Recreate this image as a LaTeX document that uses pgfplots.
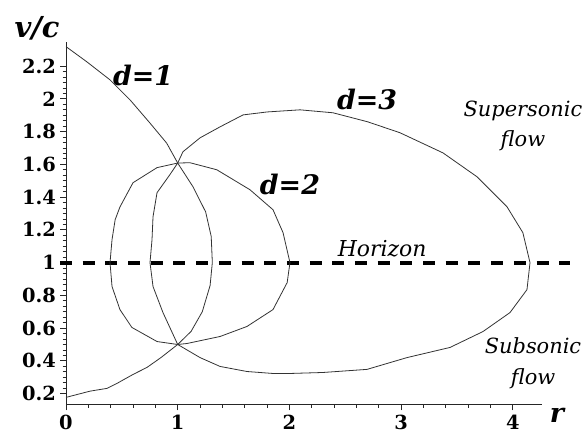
\documentclass[border=0pt]{standalone}
\usepackage{fontspec}
\setmainfont{DejaVu Serif}
\usepackage{pgfplots}
\pgfplotsset{compat=1.18}

\begin{document}
\begin{tikzpicture}
\begin{axis}[
  width=476bp, height=363bp, scale only axis,
  xmin=0, xmax=4.26, ymin=0.134, ymax=2.35,
  axis x line=bottom, axis y line=left,
  axis line style={-, line width=0.8bp, black!85},
  xtick={0,1,2,3,4}, minor x tick num=4,
  ytick={0.2,0.4,0.6,0.8,1,1.2,1.4,1.6,1.8,2,2.2}, minor y tick num=5,
  tick align=outside,
  major tick length=6bp, minor tick length=3.5bp,
  tick style={line width=0.8bp, black!85},
  /pgf/number format/assume math mode=true,
  ticklabel style={font=\fontsize{19.5}{19.5}\selectfont\bfseries},
  yticklabel style={inner sep=4bp},
  xticklabel style={inner sep=4bp},
  clip=false,
]
% Horizon
\addplot[black, line width=4bp, dash pattern=on 12bp off 10.7bp] coordinates {(-0.054,1) (4.51,1)};

% d=1
\addplot[black!80, line width=0.8bp] coordinates {
  (0,2.319) (0.185,2.227) (0.394,2.116) (0.573,1.994) (0.752,1.852)
  (0.901,1.73) (1.0,1.608) (1.137,1.463) (1.25,1.31) (1.30,1.16)
  (1.31,1.0) (1.29,0.86) (1.22,0.70) (1.12,0.58) (1.0,0.5)
  (0.85,0.42) (0.725,0.36) (0.6,0.317) (0.45,0.26) (0.367,0.232)
  (0.215,0.215) (0,0.177)
};

% d=2
\addplot[black!80, line width=0.8bp] coordinates {
  (1.0,1.608) (1.11,1.61) (1.35,1.567) (1.647,1.445) (1.853,1.323)
  (1.943,1.183) (2.005,1.0) (1.98,0.878) (1.853,0.713) (1.62,0.61)
  (1.38,0.549) (1.083,0.506) (1.0,0.5) (0.815,0.518) (0.59,0.604)
  (0.483,0.713) (0.412,0.854) (0.394,1.0) (0.412,1.14) (0.44,1.262)
  (0.483,1.34) (0.6,1.488) (0.815,1.58) (1.0,1.608)
};

% d=3
\addplot[black!80, line width=0.8bp] coordinates {
  (1.0,1.608) (1.047,1.677) (1.2,1.762) (1.379,1.829) (1.585,1.902)
  (1.8,1.92) (2.095,1.933) (2.39,1.915) (2.7,1.86) (2.99,1.793) (3.375,1.67)
  (3.68,1.524) (3.948,1.341) (4.09,1.183) (4.154,1.0) (4.127,0.835)
  (3.975,0.695) (3.733,0.579) (3.438,0.482) (3.053,0.42) (2.695,0.348)
  (2.3,0.329) (2.005,0.323) (1.853,0.323) (1.62,0.335) (1.379,0.366)
  (1.2,0.42) (1.0,0.5) (0.868,0.695) (0.779,0.854) (0.752,1.0)
  (0.77,1.14) (0.779,1.28) (0.815,1.427) (0.93,1.537) (1.0,1.608)
};

\node[font=\fontsize{29}{29}\selectfont\bfseries\itshape] at (axis cs:-0.26,2.433) {v/c};
\node[font=\fontsize{27}{27}\selectfont\bfseries\itshape] at (axis cs:4.396,0.067) {r};
\node[font=\fontsize{27}{27}\selectfont\bfseries\itshape] at (axis cs:0.69,2.14) {d=1};
\node[font=\fontsize{27}{27}\selectfont\bfseries\itshape] at (axis cs:2.005,1.476) {d=2};
\node[font=\fontsize{27}{27}\selectfont\bfseries\itshape] at (axis cs:2.695,1.994) {d=3};
\node[font=\fontsize{22}{22}\selectfont\itshape] at (axis cs:2.83,1.085) {Horizon};
\node[font=\fontsize{21}{31}\selectfont\itshape, align=center] at (axis cs:4.091,1.835) {Supersonic\\flow};
\node[font=\fontsize{21}{31}\selectfont\itshape, align=center] at (axis cs:4.181,0.384) {Subsonic\\flow};

\coordinate (bl) at (axis cs:-0.5909,-0.0671);
\coordinate (tr) at (axis cs:4.6553,2.6037);
\end{axis}
\pgfresetboundingbox
\path[use as bounding box] (bl) rectangle (tr);
\end{tikzpicture}
\end{document}
